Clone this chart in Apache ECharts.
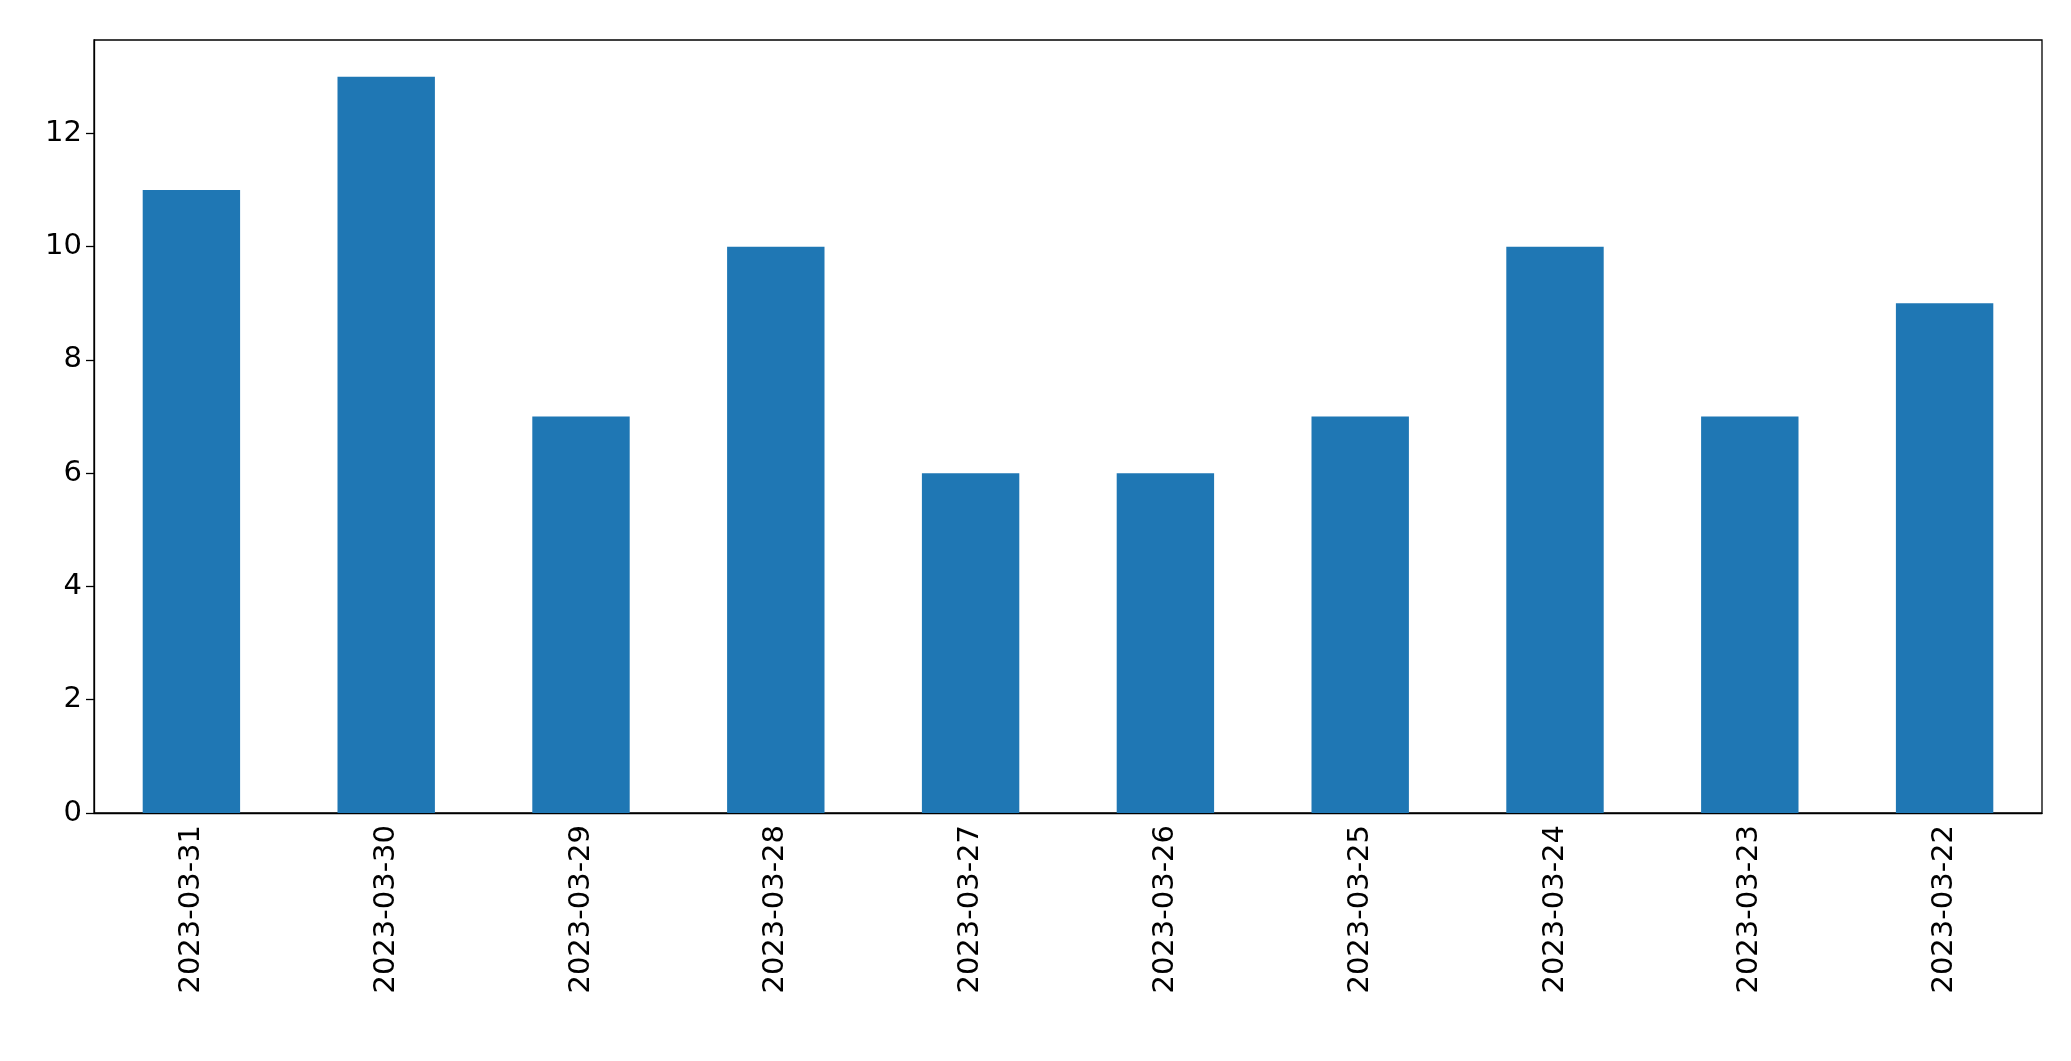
<!DOCTYPE html>
<html><head><meta charset="utf-8">
<script src="https://cdn.jsdelivr.net/npm/echarts@6/dist/echarts.min.js"></script>
<style>html,body{margin:0;padding:0;background:#fff}#c{width:2071px;height:1061px}</style>
</head><body><div id="c"></div>
<script>
const categories = ["2023-03-31","2023-03-30","2023-03-29","2023-03-28","2023-03-27","2023-03-26","2023-03-25","2023-03-24","2023-03-23","2023-03-22"];
const values = [11,13,7,10,6,6,7,10,7,9];
const chart = echarts.init(document.getElementById('c'));
const font = {fontFamily:'DejaVu Sans', fontSize:29, color:'#000'};
chart.setOption({
  animation:false,
  grid:{left:94,right:29,top:40,bottom:248,show:true,borderColor:'#000',borderWidth:1.3},
  xAxis:{type:'category',data:categories,
    axisLine:{lineStyle:{color:'#000',width:1.3}},
    axisTick:{alignWithLabel:true,length:8,lineStyle:{color:'#000',width:1.3}},
    axisLabel:Object.assign({rotate:90,margin:12,interval:0},font)},
  yAxis:{type:'value',min:0,max:13.65,interval:2,
    splitLine:{show:false},
    axisLine:{show:true,lineStyle:{color:'#000',width:1.3}},
    axisTick:{show:true,length:8,lineStyle:{color:'#000',width:1.3}},
    axisLabel:Object.assign({margin:12,showMaxLabel:false,formatter:v=>v%2===0?String(v):''},font)},
  series:[{type:'bar',data:values,barWidth:'50%',itemStyle:{color:'#1f77b4'}}]
});
</script></body></html>
